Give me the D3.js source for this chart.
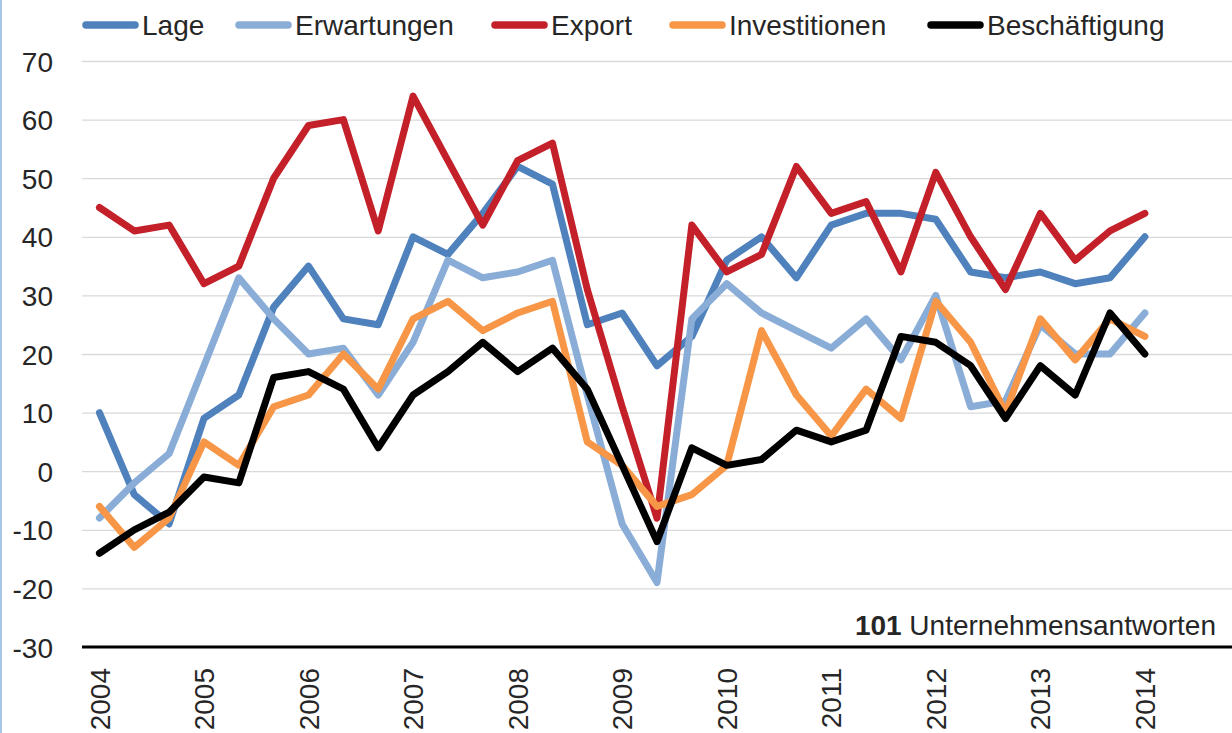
<!DOCTYPE html>
<html>
<head>
<meta charset="utf-8">
<script src="https://cdn.jsdelivr.net/npm/d3@7"></script>
<style>
  html, body { margin: 0; padding: 0; background: #fff; }
  svg { display: block; }
  text { font-family: "Liberation Sans", Arial, sans-serif; fill: #262626; }
</style>
</head>
<body>
<svg id="chart" width="1232" height="733"></svg>
<script>
// ---- Data ----
const years = ["2004","2005","2006","2007","2008","2009","2010","2011","2012","2013","2014"];
const periods = ["T1","T2","T3"];
// 33 category slots (3 per year), the last two are empty
const categories = [];
years.forEach(y => periods.forEach(p => categories.push(y + " " + p)));
const tickLabels = years; // shown at first slot of each year

const seriesNames = ["Lage", "Erwartungen", "Export", "Investitionen", "Beschäftigung"];
const seriesColors = ["#4F81BD", "#8AADD7", "#C3202A", "#F79646", "#000000"];

const lage = [10,-4,-9,9,13,28,35,26,25,40,37,44,52,49,25,27,18,23,36,40,33,42,44,44,43,34,33,34,32,33,40];
const erwartungen = [-8,-2,3,18,33,26,20,21,13,22,36,33,34,36,13,-9,-19,26,32,27,24,21,26,19,30,11,12,25,20,20,27];
const exportVals = [45,41,42,32,35,50,59,60,41,64,53,42,53,56,31,11,-8,42,34,37,52,44,46,34,51,40,31,44,36,41,44];
const investitionen = [-6,-13,-8,5,1,11,13,20,14,26,29,24,27,29,5,1,-6,-4,1,24,13,6,14,9,29,22,10,26,19,26,23];
const beschaeftigung = [-14,-10,-7,-1,-2,16,17,14,4,13,17,22,17,21,14,1,-12,4,1,2,7,5,7,23,22,18,9,18,13,27,20];

const allSeries = [lage, erwartungen, exportVals, investitionen, beschaeftigung];
const yTicks = [-30,-20,-10,0,10,20,30,40,50,60,70];
const noteNumber = "101";
const noteText = "Unternehmensantworten";

// ---- Layout ----
const svg = d3.select("#chart");
const plot = { left: 82, right: 1232, top: 61, bottom: 647 };

const x = d3.scaleBand().domain(categories).range([plot.left, plot.right]).paddingInner(0).paddingOuter(0);
const cx = c => x(c) + x.bandwidth() / 2;
const y = d3.scaleLinear().domain([-30, 70]).range([plot.bottom, plot.top]);

// left border line
svg.append("rect").attr("x", 0).attr("y", 0).attr("width", 2).attr("height", 733).attr("fill", "#A9C6E6");

// gridlines
const yAxis = d3.axisLeft(y).tickValues(yTicks).tickSize(-(plot.right - plot.left))
  .tickFormat(d => (d < 0 ? "-" + Math.abs(d) : String(d))).tickPadding(29);
const gy = svg.append("g").attr("transform", `translate(${plot.left},0)`).call(yAxis);
gy.select(".domain").remove();
gy.selectAll(".tick line").attr("stroke", "#D9D9D9").attr("stroke-width", 1.3);
gy.selectAll(".tick text").attr("font-size", 28).attr("fill", "#262626")
  .attr("font-family", "'Liberation Sans', Arial, sans-serif").attr("dy", "0.36em");
gy.selectAll(".tick").filter(d => d === -30).select("line").remove();

// note
const note = svg.append("text").attr("x", 1216).attr("y", 635).attr("text-anchor", "end").attr("font-size", 28);
note.append("tspan").attr("font-weight", "bold").text(noteNumber);
note.append("tspan").text(" " + noteText);

// lines
const line = d3.line().x((d, i) => cx(categories[i])).y(d => y(d));
allSeries.forEach((vals, k) => {
  svg.append("path").datum(vals)
    .attr("d", line)
    .attr("fill", "none")
    .attr("stroke", seriesColors[k])
    .attr("stroke-width", 7)
    .attr("stroke-linejoin", "round")
    .attr("stroke-linecap", "round");
});

// x axis line
const xAxis = d3.axisBottom(x)
  .tickValues(categories.filter((c, i) => i % 3 === 0))
  .tickFormat(c => c.split(" ")[0])
  .tickSize(0);
const gx = svg.append("g").attr("transform", `translate(0,${plot.bottom})`).call(xAxis);
gx.select(".domain").attr("stroke", "#000").attr("stroke-width", 3)
  .attr("d", `M${plot.left},0H${plot.right}`);
gx.selectAll(".tick text")
  .attr("font-size", 28).attr("fill", "#262626")
  .attr("font-family", "'Liberation Sans', Arial, sans-serif")
  .attr("text-anchor", "end")
  .attr("transform", "translate(0,21) rotate(-90)")
  .attr("x", 0).attr("y", 0).attr("dy", "0.36em");

// legend
const legendX = [83, 236, 492, 670, 928];
const lg = svg.append("g");
seriesNames.forEach((name, k) => {
  const g = lg.append("g").attr("transform", `translate(${legendX[k]},25)`);
  g.append("line").attr("x1", 3).attr("x2", 52).attr("y1", 0).attr("y2", 0)
    .attr("stroke", seriesColors[k]).attr("stroke-width", 7.5).attr("stroke-linecap", "round");
  g.append("text").attr("x", 59).attr("y", 10).attr("font-size", 28).text(name);
});
</script>
</body>
</html>
